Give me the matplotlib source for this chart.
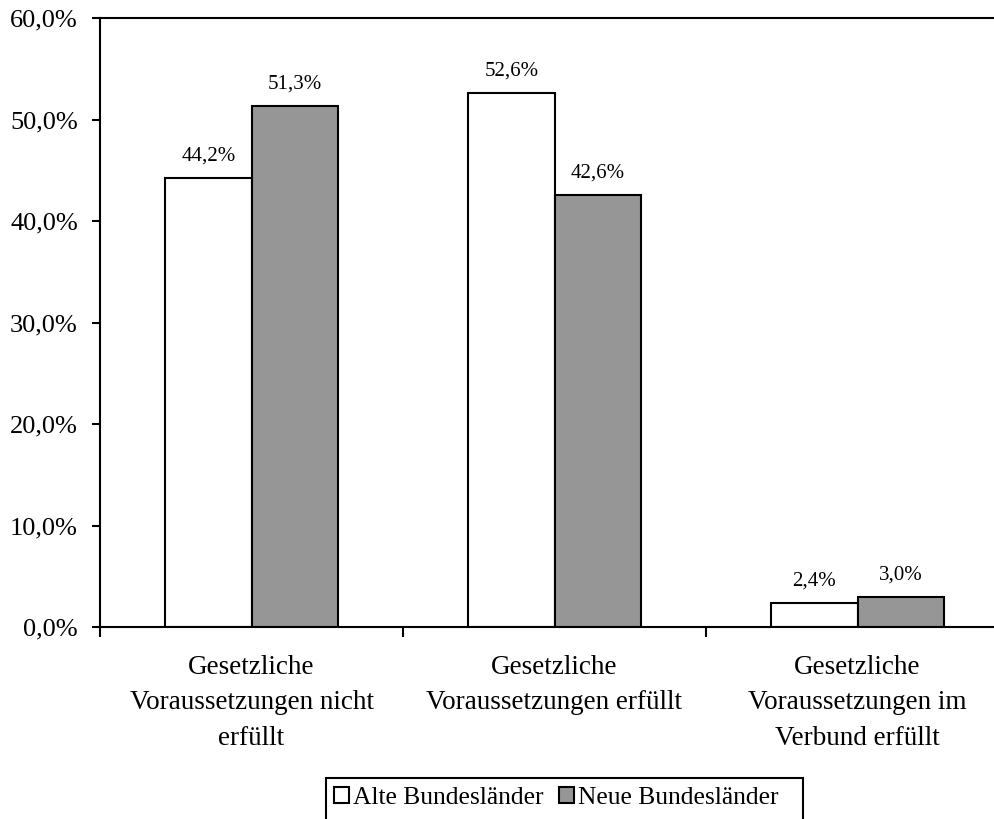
import matplotlib
matplotlib.use("Agg")
import matplotlib.pyplot as plt
from matplotlib.patches import Rectangle
from matplotlib.ticker import FuncFormatter, FixedLocator
import numpy as np

categories = ["Gesetzliche\nVoraussetzungen nicht\nerfüllt",
              "Gesetzliche\nVoraussetzungen erfüllt",
              "Gesetzliche\nVoraussetzungen im\nVerbund erfüllt"]
series_names = ["Alte Bundesländer", "Neue Bundesländer"]
alte = [44.2, 52.6, 2.4]
neue = [51.3, 42.6, 3.0]
colors = ["white", "#969696"]

plt.rcParams["font.family"] = ["Liberation Serif", "DejaVu Serif"]

W, H = 995, 819
fig = plt.figure(figsize=(W / 100, H / 100), dpi=100)
ax = fig.add_axes([100 / W, 1 - 627 / H, 909 / W, 609 / H])

x = np.arange(len(categories))
w = 0.285
for vals, off, col, name in [(alte, -w / 2, colors[0], series_names[0]),
                             (neue, w / 2, colors[1], series_names[1])]:
    bars = ax.bar(x + off, vals, width=w, color=col, edgecolor="black",
                  linewidth=1.5, label=name, zorder=2)
    for b, v in zip(bars, vals):
        ax.annotate(f"{v:.1f}%".replace(".", ","),
                    (b.get_x() + b.get_width() / 2, v),
                    xytext=(0, 9), textcoords="offset points",
                    ha="center", va="bottom", fontsize=15)

ax.set_xlim(-0.5, 2.5)
ax.set_ylim(0, 60)
ax.yaxis.set_major_locator(FixedLocator(np.arange(0, 61, 10)))
ax.yaxis.set_major_formatter(FuncFormatter(lambda v, p: f"{v:.1f}%".replace(".", ",")))
ax.tick_params(axis="y", direction="out", length=6, width=1.5, pad=10, labelsize=19)

ax.set_xticks([-0.5, 0.5, 1.5, 2.5])
ax.set_xticklabels([])
ax.tick_params(axis="x", which="major", direction="out", length=7, width=1.5)
ax.set_xticks(x, minor=True)
ax.set_xticklabels(categories, minor=True, fontsize=19.5, linespacing=1.55)
ax.tick_params(axis="x", which="minor", length=0, pad=20)

for s in ["left", "bottom", "top"]:
    ax.spines[s].set_linewidth(1.5)
ax.spines["right"].set_visible(False)

leg = fig.legend(loc="center", bbox_to_anchor=(556 / W, 1 - 798 / H),
                 ncol=2, fontsize=18.4, frameon=False,
                 handlelength=0.6, handleheight=0.6,
                 handletextpad=0.15, columnspacing=0.6, borderpad=0,
                 borderaxespad=0)
for h in leg.legend_handles:
    h.set_linewidth(1.5)

# legend border box, open at the bottom edge of the figure
fig.patches.append(Rectangle((326 / W, -0.05), (803 - 326) / W, (1 - 778 / H) + 0.05,
                             transform=fig.transFigure, fill=False,
                             edgecolor="black", linewidth=1.5))

fig.savefig("out.png", dpi=100)
